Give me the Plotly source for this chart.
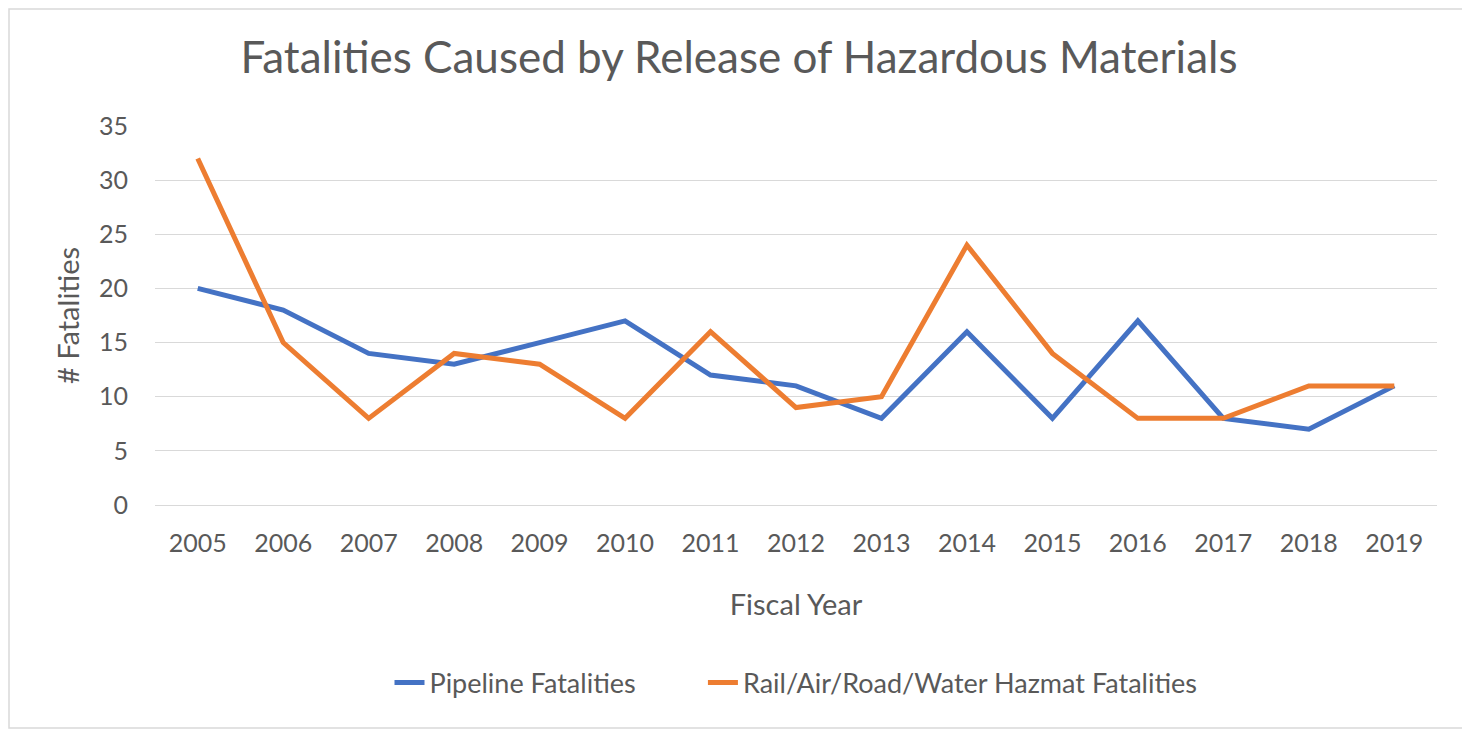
import plotly.graph_objects as go

years = ["2005", "2006", "2007", "2008", "2009", "2010", "2011", "2012", "2013", "2014", "2015", "2016", "2017", "2018", "2019"]
pipeline = [20, 18, 14, 13, 15, 17, 12, 11, 8, 16, 8, 17, 8, 7, 11]
hazmat = [32, 15, 8, 14, 13, 8, 16, 9, 10, 24, 14, 8, 8, 11, 11]
y_ticks = [0, 5, 10, 15, 20, 25, 30, 35]
series_names = ["Pipeline Fatalities", "Rail/Air/Road/Water Hazmat Fatalities"]

GRAY = "#595959"
FONT = "Lato"

W, H = 1462, 724
ML, MR, MT, MB = 147, 33, 118, 227
PW, PH = W - ML - MR, H - MT - MB

fig = go.Figure()
fig.add_trace(go.Scatter(x=years, y=pipeline, mode="lines", name=series_names[0] + "\u00a0" * 9,
                         line=dict(color="#4472C4", width=5)))
fig.add_trace(go.Scatter(x=years, y=hazmat, mode="lines", name=series_names[1],
                         line=dict(color="#ED7D31", width=5)))

fig.update_layout(
    width=W, height=H,
    paper_bgcolor="white", plot_bgcolor="white",
    margin=dict(l=ML, r=MR, t=MT, b=MB),
    font=dict(family=FONT, color=GRAY, size=24),
    title=dict(text="Fatalities Caused by Release of Hazardous Materials",
               x=0.5, xanchor="center", y=1 - 50 / H, yanchor="middle",
               font=dict(family=FONT, size=44, color=GRAY)),
    xaxis=dict(type="category", range=[-0.5, 14.5], showgrid=False, showline=True,
               linecolor="#D9D9D9", linewidth=1, ticks="",
               tickfont=dict(size=25, color=GRAY), ticklabelstandoff=16,
               title=dict(text="Fiscal Year", font=dict(size=29, color=GRAY), standoff=38)),
    yaxis=dict(range=[0, 35], tickvals=y_ticks, showgrid=True, gridcolor="#D9D9D9", gridwidth=1,
               zeroline=True, zerolinecolor="#D9D9D9", zerolinewidth=1,
               tickfont=dict(size=25, color=GRAY), ticks="", ticklabelstandoff=26,
               title=dict(text="# Fatalities", font=dict(size=29, color=GRAY), standoff=10)),
    legend=dict(orientation="h", x=0.5, xanchor="center", y=(PH - (675 - MT)) / PH, yanchor="middle",
                font=dict(size=27, color=GRAY), traceorder="normal"),
    showlegend=True,
)
fig.add_shape(type="rect", xref="paper", yref="paper",
              x0=(1 - ML) / PW, x1=(1457 - ML) / PW,
              y0=(PH - (720 - MT)) / PH, y1=(PH - (1 - MT)) / PH,
              line=dict(color="#D9D9D9", width=1.5), layer="below")

fig.write_html("out.html")
